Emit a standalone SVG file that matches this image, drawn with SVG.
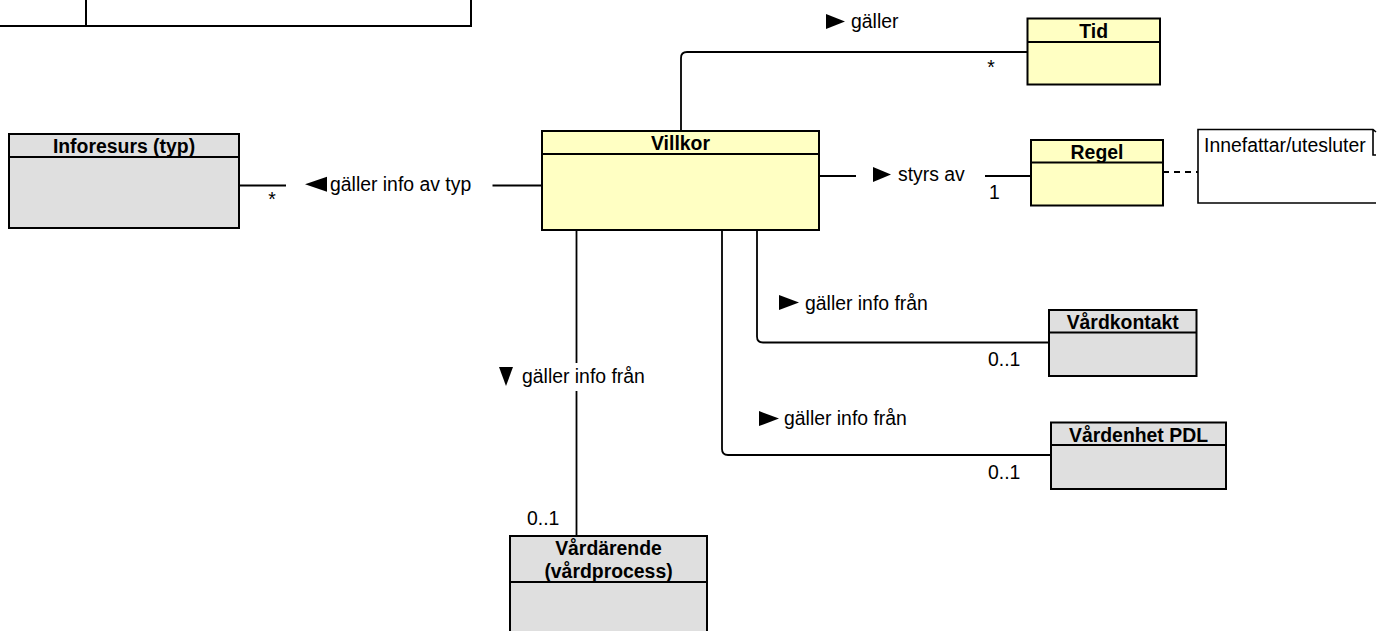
<svg xmlns="http://www.w3.org/2000/svg" width="1388" height="631" viewBox="0 0 1388 631">
<style>
.box{stroke:#000;stroke-width:2}
.y{fill:#FFFFC3}
.g{fill:#DFDFDF}
.hl{stroke:#000;stroke-width:2}
.t{font-family:"Liberation Sans",Arial,Helvetica,sans-serif;font-size:19.4px;fill:#000}
.b{font-weight:bold;text-anchor:middle}
.c{fill:none;stroke:#000;stroke-width:1.8}
.tri{fill:#000}
</style>
<rect width="1388" height="631" fill="#fff"/>
<g id="top-left-box">
<rect x="-5" y="-20" width="476" height="46" fill="#fff" class="box"/>
<line x1="86" y1="-5" x2="86" y2="26" class="hl"/>
</g>
<g id="connectors">
<path class="c" d="M681,131 V58 Q681,52 687,52 H1027.5"/>
<path class="c" d="M819,176 H856 M985,176 H1031"/>
<path class="c" d="M239,185.5 H286 M492.5,185.5 H542"/>
<path class="c" d="M576.5,230 V536"/>
<path class="c" d="M757,230 V336.5 Q757,342.5 763,342.5 H1049"/>
<path class="c" d="M722,230 V449 Q722,455 728,455 H1051"/>
<path class="c" d="M1163,172 H1198" stroke-dasharray="6 5"/>
<g id="lbl-galler">
<polygon class="tri" points="826,14 845,21.5 826,29"/>
<text class="t" x="851" y="28">gäller</text>
<text class="t" x="991" y="74" text-anchor="middle">*</text>
</g>
<g id="lbl-styrs">
<polygon class="tri" points="873,167 891,174.5 873,182"/>
<text class="t" x="898" y="181">styrs av</text>
<text class="t" x="989" y="199">1</text>
</g>
<g id="lbl-typ">
<polygon class="tri" points="305,184.2 327,176.7 327,191.7"/>
<text class="t" x="330" y="191">gäller info av typ</text>
<text class="t" x="272" y="206" text-anchor="middle">*</text>
</g>
<g id="lbl-vardarende">
<rect x="497" y="363" width="155" height="28" fill="#fff"/>
<polygon class="tri" points="499,367 513,367 506,386"/>
<text class="t" x="522" y="383">gäller info från</text>
<text class="t" x="527" y="525">0..1</text>
</g>
<g id="lbl-vardkontakt">
<polygon class="tri" points="779,295 799,302.5 779,310"/>
<text class="t" x="805" y="310">gäller info från</text>
<text class="t" x="988" y="366">0..1</text>
</g>
<g id="lbl-vardenhet">
<polygon class="tri" points="759,411 779,418.5 759,426"/>
<text class="t" x="784" y="425">gäller info från</text>
<text class="t" x="988" y="479">0..1</text>
</g>
</g>
<g id="Villkor">
<rect x="542" y="131" width="277" height="99" class="box y"/>
<line x1="542" y1="154" x2="819" y2="154" class="hl"/>
<text class="t b" x="680.5" y="150">Villkor</text>
</g>
<g id="Tid">
<rect x="1027.5" y="18.5" width="132.5" height="66" class="box y"/>
<line x1="1027.5" y1="42" x2="1160" y2="42" class="hl"/>
<text class="t b" x="1093.7" y="37.5">Tid</text>
</g>
<g id="Regel">
<rect x="1031" y="140" width="132" height="65.5" class="box y"/>
<line x1="1031" y1="162.5" x2="1163" y2="162.5" class="hl"/>
<text class="t b" x="1097" y="159">Regel</text>
</g>
<g id="Inforesurs">
<rect x="9" y="134" width="230" height="94" class="box g"/>
<line x1="9" y1="157" x2="239" y2="157" class="hl"/>
<text class="t b" x="124" y="153">Inforesurs (typ)</text>
</g>
<g id="Vardkontakt">
<rect x="1049" y="310" width="147.5" height="66" class="box g"/>
<line x1="1049" y1="332.5" x2="1196.5" y2="332.5" class="hl"/>
<text class="t b" x="1122.7" y="329">Vårdkontakt</text>
</g>
<g id="VardenhetPDL">
<rect x="1051" y="422.5" width="175" height="66.5" class="box g"/>
<line x1="1051" y1="445" x2="1226" y2="445" class="hl"/>
<text class="t b" x="1138.5" y="441.5">Vårdenhet PDL</text>
</g>
<g id="Vardarende">
<rect x="510" y="536" width="197" height="110" class="box g"/>
<line x1="510" y1="582" x2="707" y2="582" class="hl"/>
<text class="t b" x="608.5" y="555">Vårdärende</text>
<text class="t b" x="608.5" y="578">(vårdprocess)</text>
</g>
<g id="Note">
<path d="M1198,129.5 H1373 L1376,132 V203 H1198 Z" fill="#fff" stroke="none"/>
<path d="M1376,203 H1198 V129.5 H1373 L1376,132 M1373,129.5 V155 H1376" fill="none" stroke="#000" stroke-width="1.6"/>
<text class="t" x="1204" y="152">Innefattar/utesluter</text>
</g>
</svg>
